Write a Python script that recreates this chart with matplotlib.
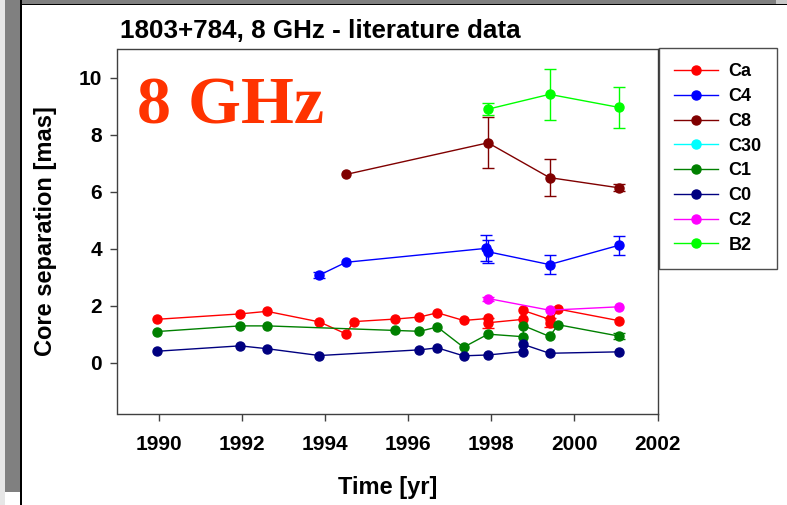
'''Core separation of 1803+784 components at 8 GHz, literature data'''

import matplotlib
matplotlib.use("Agg")
import matplotlib.pyplot as plt
from matplotlib.patches import Rectangle

# component data: epochs [yr], core separation [mas], error [mas]
ca_time = [1989.94, 1991.95, 1992.60, 1993.86, 1994.50, 1994.69, 1995.69, 1996.27, 1996.70,
           1997.33, 1997.92, 1997.92, 1998.77, 1998.77, 1999.40, 1999.40, 1999.61, 2001.08]
ca_sep = [1.52, 1.71, 1.80, 1.43, 1.01, 1.44, 1.53, 1.60, 1.75,
          1.48, 1.55, 1.40, 1.52, 1.83, 1.52, 1.40, 1.88, 1.47]
ca_err = [0, 0, 0, 0, 0, 0, 0, 0, 0, 0, 0, 0.17, 0, 0, 0, 0.15, 0, 0]

c4_time = [1993.86, 1994.50, 1997.88, 1997.92, 1999.40, 2001.08]
c4_sep = [3.07, 3.52, 4.01, 3.89, 3.44, 4.12]
c4_err = [0.1, 0, 0.45, 0.4, 0.33, 0.33]

c8_time = [1994.50, 1997.92, 1999.40, 2001.08]
c8_sep = [6.60, 7.71, 6.49, 6.13]
c8_err = [0, 0.9, 0.65, 0.12]

c30_time = []
c30_sep = []
c30_err = []

c1_time = [1989.94, 1991.95, 1992.60, 1995.69, 1996.27, 1996.70, 1997.33, 1997.92,
           1998.77, 1998.77, 1999.40, 1999.61, 2001.08]
c1_sep = [1.09, 1.29, 1.29, 1.13, 1.10, 1.25, 0.54, 1.00, 0.91, 1.30, 0.92, 1.33, 0.93]
c1_err = [0, 0, 0, 0, 0, 0, 0, 0, 0, 0, 0, 0, 0.1]

c0_time = [1989.94, 1991.95, 1992.60, 1993.86, 1996.27, 1996.70, 1997.33, 1997.92,
           1998.77, 1998.77, 1999.40, 2001.08]
c0_sep = [0.40, 0.59, 0.49, 0.25, 0.45, 0.52, 0.24, 0.27, 0.39, 0.64, 0.33, 0.38]
c0_err = [0, 0, 0, 0, 0, 0, 0, 0, 0, 0, 0, 0]

c2_time = [1997.92, 1999.40, 2001.08]
c2_sep = [2.25, 1.84, 1.96]
c2_err = [0.07, 0, 0]

b2_time = [1997.92, 1999.40, 2001.08]
b2_sep = [8.89, 9.41, 8.95]
b2_err = [0.2, 0.9, 0.72]

components = [
    ("Ca", ca_time, ca_sep, ca_err, "#ff0000"),
    ("C4", c4_time, c4_sep, c4_err, "#0000ff"),
    ("C8", c8_time, c8_sep, c8_err, "#800000"),
    ("C30", c30_time, c30_sep, c30_err, "#00ffff"),
    ("C1", c1_time, c1_sep, c1_err, "#008000"),
    ("C0", c0_time, c0_sep, c0_err, "#000080"),
    ("C2", c2_time, c2_sep, c2_err, "#ff00ff"),
    ("B2", b2_time, b2_sep, b2_err, "#00ff00"),
]

x_ticks = [1990, 1992, 1994, 1996, 1998, 2000, 2002]
y_ticks = [0, 2, 4, 6, 8, 10]

W, H = 787, 505
plt.rcParams['font.family'] = ['Liberation Sans', 'DejaVu Sans']

fig = plt.figure(figsize=(W / 100, H / 100), dpi=100)
fig.patch.set_facecolor("white")

# slide frame around the chart (screen capture look)
def px_rect(x0, y0, x1, y1, color):
    fig.patches.append(Rectangle((x0 / W, 1 - y1 / H), (x1 - x0) / W, (y1 - y0) / H,
                                 transform=fig.transFigure, facecolor=color,
                                 edgecolor="none", zorder=0))

px_rect(0, 0, 5, H, "#e6e6e6")
px_rect(5, 0, 20, 492, "#808080")
px_rect(20, 0, 776, 4, "#808080")
px_rect(776, 0, W, 4, "#c8c8c8")
px_rect(20, 0, 22, H, "#000000")
px_rect(20, 4, W, 5, "#000000")

ax = fig.add_axes([117.5 / W, 1 - 414 / H, (657.5 - 117.5) / W, (414 - 49) / H])

for name, t, s, e, color in components:
    has_err = [v > 0 for v in e]
    ax.plot(t, s, "-o", color=color, lw=1, ms=6.5, label=name, zorder=3)
    et = [t[i] for i in range(len(t)) if has_err[i]]
    es = [s[i] for i in range(len(t)) if has_err[i]]
    ee = [e[i] for i in range(len(t)) if has_err[i]]
    if et:
        ax.errorbar(et, es, yerr=ee, fmt="none", ecolor=color, elinewidth=1,
                    capsize=4.5, capthick=1, zorder=2)

ax.set_xlim(1989, 2002)
ax.set_ylim(-1.8, 11)
ax.set_xticks(x_ticks)
ax.set_yticks(y_ticks)
ax.tick_params(direction="out", length=5, width=1, color="#404040", labelsize=15)
ax.tick_params(axis="x", pad=10)
ax.tick_params(axis="y", pad=6)
for lab in ax.get_xticklabels() + ax.get_yticklabels():
    lab.set_fontweight("bold")
for side in ["left", "bottom", "top", "right"]:
    ax.spines[side].set_color("#404040")
    ax.spines[side].set_linewidth(1)

ax.set_xlabel("Time [yr]", fontsize=17, fontweight="bold", labelpad=16)
ax.set_ylabel("Core separation [mas]", fontsize=17, fontweight="bold", labelpad=16)

ax.text(0.036, 1 - (123 - 49) / (414 - 49), "8 GHz", transform=ax.transAxes,
        fontsize=49, fontweight="bold", family="Liberation Serif", color="#ff3300",
        va="baseline", ha="left")

fig.text(120 / W, 1 - 38 / H, "1803+784, 8 GHz - literature data", fontsize=18.7,
         fontweight="bold", va="baseline", ha="left")

leg = ax.legend(loc="upper left", bbox_to_anchor=(659 / W, 1 - 48 / H),
                bbox_transform=fig.transFigure, fontsize=13, frameon=True,
                fancybox=False, edgecolor="#202020", handlelength=2.4,
                labelspacing=0.43, borderpad=0.85, handletextpad=0.6, borderaxespad=0)
leg.get_frame().set_linewidth(1)
for txt in leg.get_texts():
    txt.set_fontweight("bold")

plt.savefig("out.png", dpi=100)
